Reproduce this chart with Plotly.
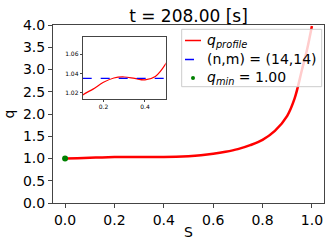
import plotly.graph_objects as go

# ---- data ----
s_vals = [0.0, 0.05, 0.1, 0.15, 0.2, 0.25, 0.3, 0.35, 0.4, 0.45, 0.5, 0.55,
          0.6, 0.65, 0.7, 0.75, 0.8, 0.85, 0.9, 0.93, 0.96, 0.98, 1.0]
q_vals = [1.000, 1.008, 1.018, 1.024, 1.031, 1.0355, 1.0365, 1.035, 1.0335,
          1.037, 1.050, 1.072, 1.105, 1.15, 1.21, 1.30, 1.42, 1.62, 1.96,
          2.35, 3.00, 3.44, 3.98]
q_rational = 1.035          # (n,m) = (14,14) surface
s_qmin = [0.0]
q_qmin = [1.00]
title_text = "t = 208.00 [s]"
main_xticks = [0.0, 0.2, 0.4, 0.6, 0.8, 1.0]
main_yticks = [0.0, 0.5, 1.0, 1.5, 2.0, 2.5, 3.0, 3.5, 4.0]
inset_xticks = [0.2, 0.4]
inset_yticks = [1.02, 1.04, 1.06]

FONT = "DejaVu Sans"
AX = "#444444"

fig = go.Figure()

# main axes
fig.add_trace(go.Scatter(x=s_vals, y=q_vals, mode="lines", line=dict(color="red", width=2.5, shape="spline"),
                         xaxis="x", yaxis="y", showlegend=False, hoverinfo="skip"))
fig.add_trace(go.Scatter(x=s_qmin, y=q_qmin, mode="markers", marker=dict(color="green", size=6),
                         xaxis="x", yaxis="y", showlegend=False))

# inset
fig.add_trace(go.Scatter(x=s_vals, y=q_vals, mode="lines", line=dict(color="red", width=1.2, shape="spline"),
                         xaxis="x2", yaxis="y2", showlegend=False))
fig.add_trace(go.Scatter(x=[0.1, 0.5], y=[q_rational, q_rational], mode="lines",
                         line=dict(color="blue", width=1.2, dash="dash"),
                         xaxis="x2", yaxis="y2", showlegend=False))

axis_common = dict(showgrid=False, zeroline=False, showline=True, linecolor=AX, linewidth=1,
                   mirror=True, ticks="outside", tickcolor=AX, color="black")

FIG_W, FIG_H = 332, 249
fig.update_layout(
    width=FIG_W, height=FIG_H,
    margin=dict(l=53, r=8, t=25, b=46),
    paper_bgcolor="white", plot_bgcolor="white",
    font=dict(family=FONT, size=14, color="black"),
    showlegend=False,
    title=dict(text=title_text, x=188.5 / FIG_W, xanchor="center", y=1 - 16.5 / FIG_H, yanchor="middle",
               font=dict(size=17)),
    xaxis=dict(range=[-0.049, 1.049], tickvals=main_xticks, tickformat=".1f", ticklen=4,
               title=dict(text="S", standoff=0, font=dict(size=14)), domain=[0, 1], **axis_common),
    yaxis=dict(range=[0, 4.0], tickvals=main_yticks, tickformat=".1f", ticklen=4,
               title=dict(text="q", standoff=5, font=dict(size=14)), domain=[0, 1], **axis_common),
    xaxis2=dict(range=[0.1, 0.5], tickvals=inset_xticks, tickformat=".1f", ticklen=2,
                domain=[0.1096, 0.4159], anchor="y2", tickfont=dict(size=6), **axis_common),
    yaxis2=dict(range=[1.0135, 1.078], tickvals=inset_yticks, tickformat=".2f", ticklen=2,
                domain=[0.5826, 0.934], anchor="x2", tickfont=dict(size=6), **axis_common),
)

# legend (drawn as shapes and text; positions given in window pixels -> paper coords)
W, H = 271.0, 178.0  # plot area size
def px(x):
    return (x - 53) / W
def py(y):
    return (203 - y) / H

fig.add_shape(type="rect", xref="paper", yref="paper", x0=px(181.7), x1=px(321.7), y0=py(86.7), y1=py(29.3),
              line=dict(color="#cccccc", width=1), fillcolor="rgba(255,255,255,0.8)", layer="above")
rows = [40.5, 59.5, 78.0]
fig.add_shape(type="line", xref="paper", yref="paper", x0=px(185), x1=px(201), y0=py(rows[0]), y1=py(rows[0]),
              line=dict(color="red", width=1.5), layer="above")
fig.add_shape(type="line", xref="paper", yref="paper", x0=px(185), x1=px(201), y0=py(rows[1]), y1=py(rows[1]),
              line=dict(color="blue", width=1.5, dash="dash"), layer="above")
fig.add_shape(type="circle", xref="paper", yref="paper", x0=px(191), x1=px(195), y0=py(rows[2] + 2), y1=py(rows[2] - 2),
              line=dict(color="green", width=0), fillcolor="green", layer="above")
labels = ["<i>q</i><sub><i>profile</i></sub>", "(n,m) = (14,14)", "<i>q</i><sub><i>min</i></sub> = 1.00"]
for r, lab in zip(rows, labels):
    fig.add_annotation(xref="paper", yref="paper", x=px(205), y=py(r), text=lab, showarrow=False,
                       xanchor="left", yanchor="middle", font=dict(size=14, family=FONT))

# remove the default 8px page margin so the figure fills the window exactly
fig.write_html("out.html", config={"displayModeBar": False},
               post_script="document.body.style.margin='0';document.body.style.overflow='hidden';")
